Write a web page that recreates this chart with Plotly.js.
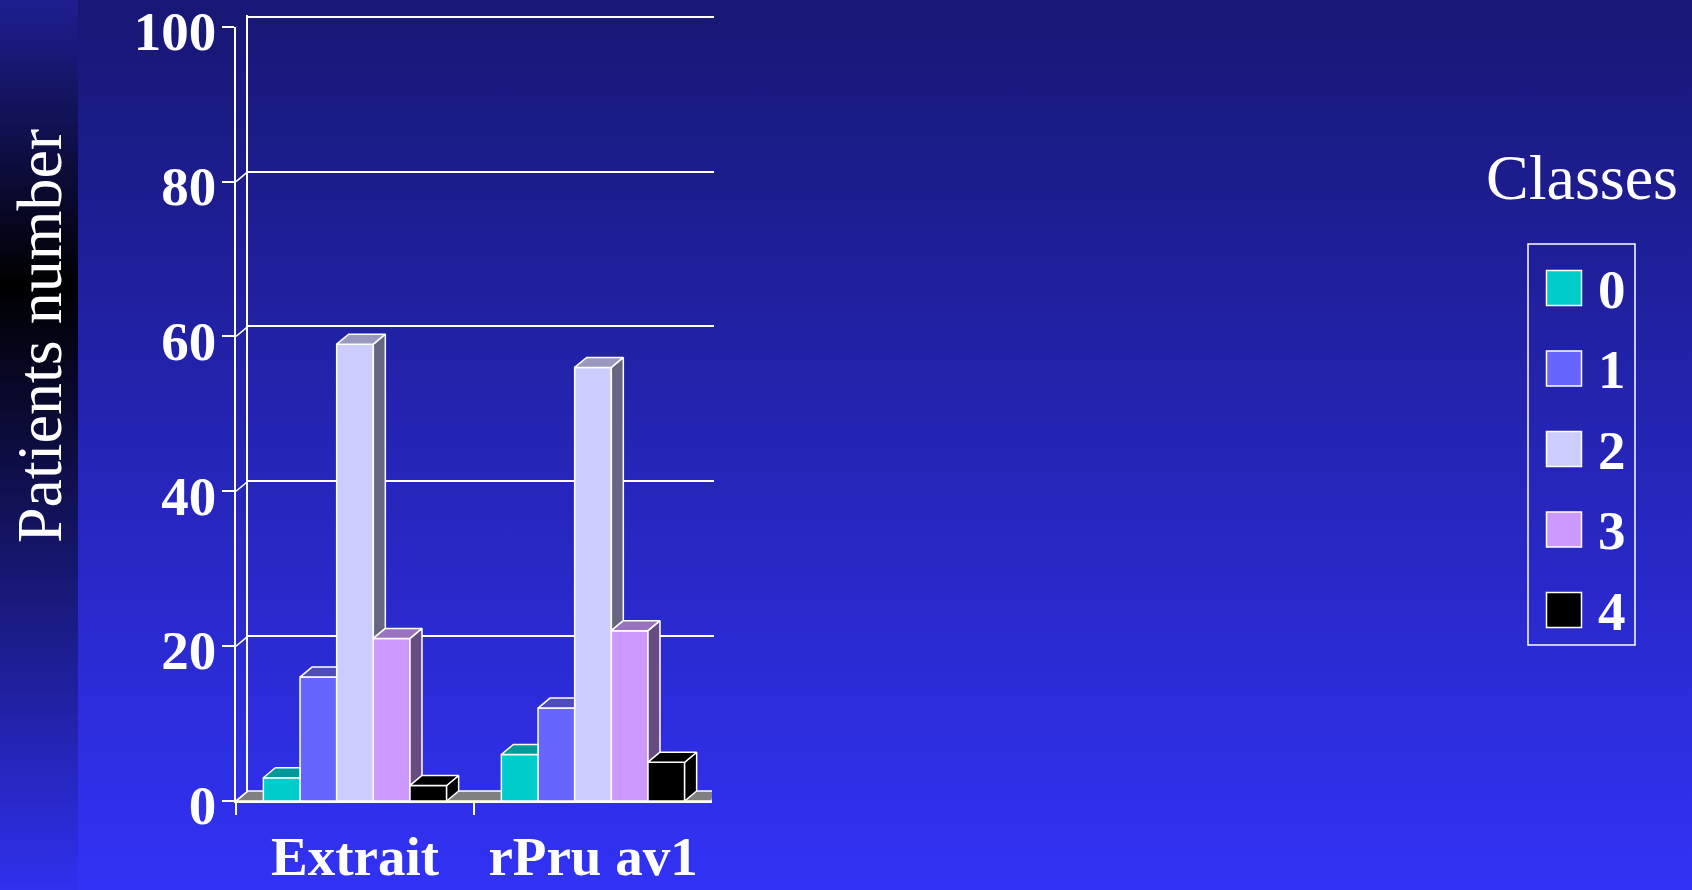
<!DOCTYPE html>
<html><head><meta charset="utf-8">
<script src="https://cdn.plot.ly/plotly-3.0.1.min.js"></script>
<style>
html,body{margin:0;padding:0;width:1692px;height:890px;overflow:hidden;}
body{background:linear-gradient(to bottom,#171774 0%,#3232f6 100%);}
#strip{position:absolute;left:0;top:0;width:78px;height:890px;background:linear-gradient(to bottom,#1e1e92 0%,#000000 32%,#3030ee 100%);}
#chart{position:absolute;left:0;top:0;width:1692px;height:890px;}
</style></head><body>
<div id="strip"></div><div id="chart"></div>
<script>
// ---- data ----
const categories = ['Extrait', 'rPru av1'];
const classes = ['0', '1', '2', '3', '4'];
const class0 = [3, 6];
const class1 = [16, 12];
const class2 = [59, 56];
const class3 = [21, 22];
const class4 = [2, 5];
const yTicks = [0, 20, 40, 60, 80, 100];
const yTitle = 'Patients number';
const legendTitle = 'Classes';

// ---- styles ----
const series = [class0, class1, class2, class3, class4];
const frontColors = ['#00cccc', '#6666ff', '#ccccff', '#cc99ff', '#000000'];
const topColors   = ['#009999', '#4c4cbf', '#9999bf', '#9973bf', '#000000'];
const sideColors  = ['#006666', '#333380', '#666680', '#664c80', '#000000'];
const FONT = 'Liberation Serif';
const W = 1692, H = 890;
const FX0 = 236, FX1 = 712;      // front plane x extent (px)
const FY0 = 801, FY100 = 26.7;   // front plane y of 0 and 100 (px)
const DX = 12, DY = 10;          // depth offset (px)
const BX1 = 714;                 // back wall right end
const BARGAP = 0.23;
const BACK_EXTRA = 0.25;         // keeps the top back gridline inside the domain

const pxPerX = (FX1 - FX0) / 2;
const pxPerY = (FY0 - FY100) / 100;
const dxu = DX / pxPerX, dyu = DY / pxPerY;
const nS = series.length;
const bw = (1 - BARGAP) / nS;

const traces = [];
// dummy trace for back plane subplot
traces.push({type: 'scatter', x: [], y: [], xaxis: 'x', yaxis: 'y', showlegend: false, hoverinfo: 'skip'});

// front faces: real bars
series.forEach((vals, j) => {
  traces.push({
    type: 'bar', x: categories, y: vals, name: classes[j],
    xaxis: 'x2', yaxis: 'y2', showlegend: false,
    marker: {color: frontColors[j], line: {color: '#ffffff', width: 1.5}},
    hovertemplate: '%{x}<br>Class ' + classes[j] + ': %{y}<extra></extra>'
  });
});

// 3D top and side faces derived from the same values
series.forEach((vals, j) => {
  const tx = [], ty = [], sx = [], sy = [];
  categories.forEach((c, i) => {
    const v = vals[i];
    const x0 = i - (1 - BARGAP) / 2 + j * bw, x1 = x0 + bw;
    const last = j === nS - 1;
    const w = last ? 0 : series[j + 1][i];
    if (!last && w > v) {
      tx.push(x0, x1, x1, x0 + dxu, x0, null);
      ty.push(v, v, v + dyu, v + dyu, v, null);
    } else {
      tx.push(x0, x1, x1 + dxu, x0 + dxu, x0, null);
      ty.push(v, v, v + dyu, v + dyu, v, null);
    }
    if (last || w < v) {
      const b = last ? 0 : w;
      sx.push(x1, x1 + dxu, x1 + dxu, x1, x1, null);
      sy.push(v, v + dyu, b + dyu, b, v, null);
    }
  });
  if (sx.length) traces.push({type: 'scatter', mode: 'lines', x: sx, y: sy, xaxis: 'x3', yaxis: 'y2',
    fill: 'toself', fillcolor: sideColors[j], line: {color: '#ffffff', width: 1.5}, showlegend: false, hoverinfo: 'skip'});
  traces.push({type: 'scatter', mode: 'lines', x: tx, y: ty, xaxis: 'x3', yaxis: 'y2',
    fill: 'toself', fillcolor: topColors[j], line: {color: '#ffffff', width: 1.5}, showlegend: false, hoverinfo: 'skip'});
});

const shapes = [];
// floor
shapes.push({type: 'path', xref: 'x3', yref: 'y2', layer: 'below',
  path: `M${-0.5},0 L${1.5},0 L${(BX1 - FX0) / pxPerX - 0.5},${dyu} L${-0.5 + dxu},${dyu} Z`,
  fillcolor: '#808080', line: {color: '#ffffff', width: 1.5}});
// tick connectors front -> back wall
yTicks.forEach(v => {
  shapes.push({type: 'line', xref: 'x3', yref: 'y2', x0: -0.5, y0: v, x1: -0.5 + dxu, y1: v + dyu,
    line: {color: '#ffffff', width: 1.5}});
});
// legend box
const LX0 = 1528, LX1 = 1635, LY0 = 244, LY1 = 645, ITEM0 = 288, ITEMSTEP = 80.5;
shapes.push({type: 'rect', xref: 'paper', yref: 'paper', x0: LX0 / W, x1: LX1 / W, y0: 1 - LY1 / H, y1: 1 - LY0 / H,
  line: {color: '#ffffff', width: 1.5}, fillcolor: 'rgba(0,0,0,0)'});
const annotations = [];
classes.forEach((c, k) => {
  const cy = ITEM0 + k * ITEMSTEP;
  shapes.push({type: 'rect', xref: 'paper', yref: 'paper', x0: 1546.5 / W, x1: 1581.5 / W,
    y0: 1 - (cy + 17.5) / H, y1: 1 - (cy - 17.5) / H, fillcolor: frontColors[k], line: {color: '#ffffff', width: 1.5}});
  annotations.push({xref: 'paper', yref: 'paper', x: 1596 / W, y: 1 - (cy + 1) / H, xanchor: 'left', yanchor: 'middle',
    text: c, showarrow: false, font: {family: FONT, size: 55, color: '#ffffff', weight: 'bold'}});
});
annotations.push({xref: 'paper', yref: 'paper', x: 1582 / W, y: 1 - 178 / H, xanchor: 'center', yanchor: 'middle',
  text: legendTitle, showarrow: false, font: {family: FONT, size: 64, color: '#ffffff'}});
annotations.push({xref: 'paper', yref: 'paper', x: 39 / W, y: 1 - 336 / H, xanchor: 'center', yanchor: 'middle',
  text: yTitle, textangle: -90, showarrow: false, font: {family: FONT, size: 64, color: '#ffffff'}});

const tickFont = {family: FONT, size: 55, color: '#ffffff', weight: 'bold'};
const layout = {
  width: W, height: H, margin: {l: 0, r: 0, t: 0, b: 0, pad: 0},
  paper_bgcolor: 'rgba(0,0,0,0)', plot_bgcolor: 'rgba(0,0,0,0)',
  font: {family: FONT, color: '#ffffff'},
  showlegend: false, barmode: 'group', bargap: BARGAP, bargroupgap: 0,
  xaxis: {domain: [(FX0 + DX) / W, BX1 / W], anchor: 'y', visible: false, range: [0, 1], fixedrange: true},
  yaxis: {domain: [1 - (FY0 - DY) / H, 1 - (FY100 - DY - BACK_EXTRA * pxPerY) / H], anchor: 'x', range: [0, 100 + BACK_EXTRA], tickvals: yTicks,
    showgrid: true, gridcolor: '#ffffff', gridwidth: 1.5, showline: true, linecolor: '#ffffff', linewidth: 1.5,
    ticks: '', showticklabels: false, zeroline: false, fixedrange: true, automargin: false},
  xaxis2: {domain: [FX0 / W, FX1 / W], anchor: 'y2', type: 'category', range: [-0.5, 1.5], tickson: 'boundaries',
    ticks: 'outside', ticklen: 12, tickwidth: 1.5, tickcolor: '#ffffff', showline: true, linecolor: '#ffffff', linewidth: 1.5,
    showgrid: false, zeroline: false, tickfont: tickFont, ticklabelstandoff: 6, ticklabeloverflow: 'allow',
    fixedrange: true, automargin: false},
  yaxis2: {domain: [1 - FY0 / H, 1 - FY100 / H], anchor: 'x2', range: [0, 100], tickvals: yTicks,
    ticks: 'outside', ticklen: 12, tickwidth: 1.5, tickcolor: '#ffffff', showline: true, linecolor: '#ffffff', linewidth: 1.5,
    showgrid: false, zeroline: false, tickfont: tickFont, ticklabelstandoff: -5, ticklabelshift: 4,
    ticklabeloverflow: 'allow', fixedrange: true, automargin: false},
  xaxis3: {overlaying: 'x2', anchor: 'y2', range: [-0.5, 1.5], visible: false, fixedrange: true},
  shapes: shapes, annotations: annotations
};
Plotly.newPlot('chart', traces, layout, {displayModeBar: false, responsive: false});
</script>
</body></html>
